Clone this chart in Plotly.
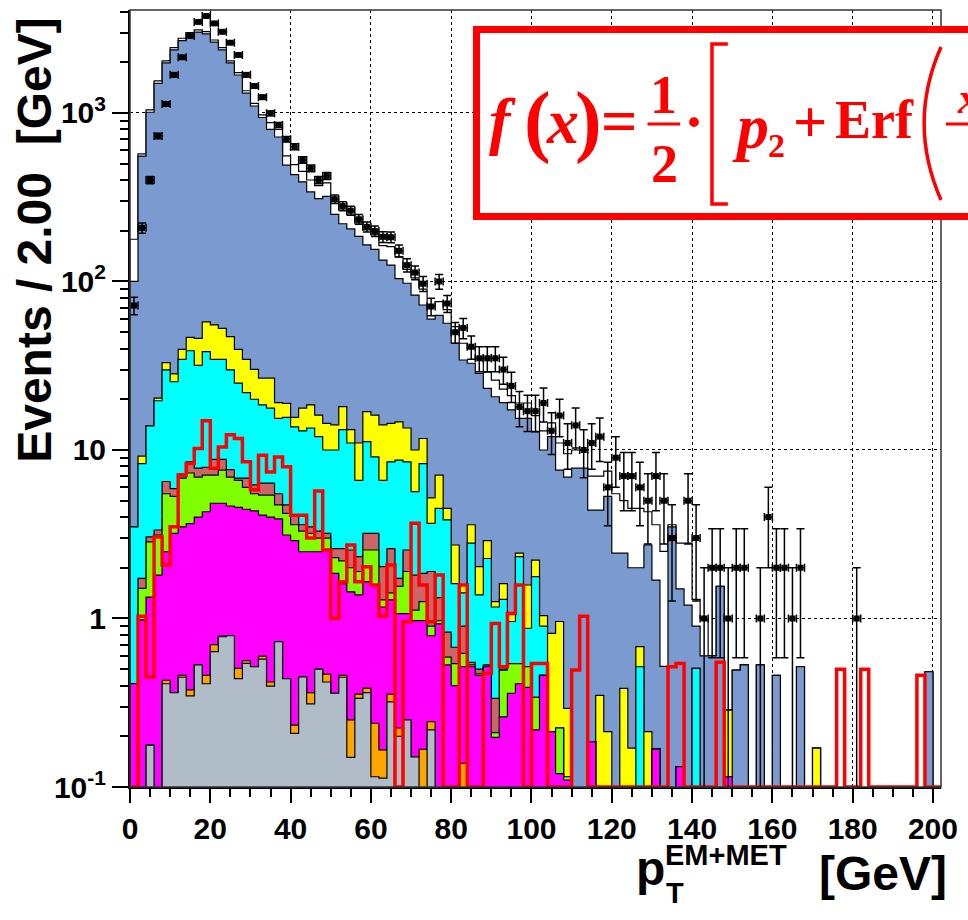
import numpy as np
import plotly.graph_objects as go

# ---------------------------------------------------------------- binning
BIN_W = 2.0
N_BINS = 100
X_MAX = 202.0
edges = np.arange(N_BINS + 1) * BIN_W
centers = edges[:-1] + BIN_W / 2

# ---------------------------------------------------------------- data (events per bin)
data_counts = [
    72, 208, 400, 731, 1130, 1683, 2140, 2865, 3470, 3760,
    3400, 3030, 2610, 2210, 1683, 1445, 1240, 995, 849, 698,
    631, 526, 469, 400, 423, 308, 280, 263, 234, 211,
    199, 184, 183, 152, 125, 113, 97, 71, 100, 74,
    50, 53, 41, 35, 35, 35, 30, 24, 18, 17,
    17, 19, 13, 16, 11, 14, 10, 11, 12, 6,
    9, 7, 7, 6, 5, 7, 5, 3, 0, 5,
    3, 1, 2, 2, 1, 2, 2, 0, 1, 4,
    2, 2, 1, 2, 0, 0, 0, 0, 0, 0,
    1, 0, 0, 0, 0, 0, 0, 0, 0, 0,
]

# ---------------------------------------------------------------- stacked backgrounds
# cumulative height of the stack after adding each process (bottom -> top)
gray_top = [
    0, 0, 0.177, 0, 0.41, 0.363, 0.448, 0.347, 0.53, 0.41,
    0.636, 0.78, 0.79, 0.44, 0.542, 0.517, 0.574, 0.397, 0.728, 0.44,
    0.208, 0.45, 0.311, 0.5, 0.42, 0.36, 0.448, 0.15, 0.336, 0.363,
    0.115, 0.113, 0.32, 0.2, 0.25, 0.151, 0, 0.218, 0, 0,
] + [0] * 60
orange_top = [
    0, 0, 0.177, 0, 0.43, 0.363, 0.46, 0.377, 0.53, 0.46,
    0.70, 0.787, 0.79, 0.506, 0.562, 0.517, 0.598, 0.42, 0.728, 0.44,
    0.233, 0.45, 0.363, 0.5, 0.468, 0.36, 0.46, 0.25, 0.356, 0.386,
    0.239, 0.166, 0.356, 0.224, 0.25, 0.151, 0.167, 0.244, 0, 0,
    0, 0.138,
] + [0] * 58
magenta_top = [
    0.41, 0.98, 1.34, 1.81, 2.49, 3.2, 3.5, 3.66, 4.0, 4.3,
    4.83, 4.83, 4.65, 4.57, 4.45, 4.35, 4.11, 4.0, 3.9, 3.13,
    2.9, 2.49, 2.49, 2.49, 2.55, 1.85, 1.61, 1.44, 1.38, 1.65,
    1.58, 1.17, 1.29, 1.07, 1.07, 0.97, 0.97, 0.79, 0.93, 0.53,
    0.40, 0.517, 0.517, 0.46, 0.517, 0.197, 0.261, 0.36, 0.41, 0.39,
    0.218, 0.46, 0.213, 0.12, 0.11, 0, 0, 0.186, 0, 0,
    0, 0, 0, 0, 0, 0.168, 0, 0, 0.132, 0,
    0, 0, 0, 0, 0.115, 0, 0, 0, 0, 0,
] + [0] * 20
green_top = [
    0.41, 1.51, 2.85, 3.13, 5.5, 5.3, 6.8, 7.3, 6.9, 7.1,
    7.1, 7.6, 6.9, 6.6, 6.0, 5.5, 5.4, 5.4, 4.72, 4.2,
    3.6, 3.3, 3.2, 3.0, 3.0, 2.3, 2.2, 2.0, 1.9, 2.55,
    2.55, 1.29, 1.42, 1.55, 1.9, 1.12, 1.26, 0.9, 0.97, 0.59,
    0.54, 0.62, 0.53, 0.47, 0.52, 0.21, 0.494, 0.54, 0.54, 0.517,
    0.34, 0.46, 0.213, 0.224, 0.115, 0, 0, 0.186, 0, 0,
    0, 0, 0, 0, 0, 0.168, 0, 0, 0.132, 0,
    0, 0, 0, 0, 0.115, 0, 0, 0, 0, 0,
] + [0] * 20
brown_top = [
    0.41, 1.73, 3.05, 3.35, 6.5, 5.9, 7.2, 8.5, 7.8, 7.9,
    8.8, 8.8, 7.65, 6.8, 6.8, 6.2, 6.35, 6.35, 5.5, 4.72,
    4.06, 3.6, 3.5, 3.3, 3.2, 2.6, 2.6, 2.55, 2.33, 3.2,
    3.2, 2.03, 2.6, 1.73, 2.55, 1.81, 1.85, 1.9, 1.33, 0.83,
    0.675, 0.9, 0.55, 0.5, 0.53, 0.336, 0.5, 0.54, 0.54, 0.517,
    0.34, 0.46, 0.213, 0.224, 0.115, 0, 0, 0.186, 0, 0,
    0, 0, 0, 0, 0, 0.168, 0, 0, 0.132, 0,
    0, 0, 0, 0, 0.115, 0, 0, 0, 0, 0,
] + [0] * 20
cyan_top = [
    3.5, 8.3, 13.9, 19.6, 29.9, 25.4, 34.5, 38.8, 31.8, 38.3,
    34.5, 34.5, 29.9, 24.9, 21.9, 20.0, 18.5, 17.7, 15.4, 15.6,
    13.7, 13.0, 13.5, 12.0, 10.0, 10.0, 13.2, 11.0, 6.6, 11.2,
    9.1, 6.6, 8.5, 8.7, 8.5, 5.66, 8.3, 3.67, 4.5, 3.85,
    1.61, 1.42, 2.8, 1.38, 2.27, 1.17, 1.3, 0.96, 2.33, 0.875,
    1.77, 0.9, 0.213, 0.224, 0.115, 0, 0, 0.186, 0, 0,
    0, 0, 0, 0.517, 0, 0.168, 0, 0, 0.132, 0,
    0.506, 0, 0, 0, 0.115, 0, 0, 0, 0, 0,
] + [0] * 20
yellow_top = [
    3.5, 9.2, 13.9, 20.3, 33.0, 28.3, 39.5, 46.6, 45.9, 57.6,
    55.2, 52.7, 47.0, 39.5, 34.5, 30.1, 26.7, 26.7, 19.1, 18.9,
    15.6, 17.7, 18.5, 16.1, 14.4, 14.1, 18.1, 13.2, 11.0, 16.9,
    16.1, 14.1, 14.4, 14.7, 13.5, 10.0, 11.7, 5.2, 7.1, 4.5,
    2.73, 1.58, 3.6, 2.03, 2.9, 1.26, 1.61, 1.07, 2.44, 1.58,
    2.22, 1.04, 0.817, 0.96, 0.293, 0, 0, 0.186, 0.35, 0.213,
    0, 0.385, 0.17, 0.68, 0.213, 0.168, 0, 0, 0.132, 0,
    0.506, 0, 0, 0, 0.286, 0, 0, 0, 0, 0,
    0, 0, 0, 0, 0, 0.17, 0, 0, 0, 0,
] + [0] * 10
blue_top = [
    100, 555, 1010, 1500, 1980, 2370, 2690, 2910, 3020, 2950,
    2630, 2370, 1980, 1680, 1310, 1100, 940, 800, 720, 490,
    430, 390, 340, 310, 320, 250, 220, 205, 185, 165,
    155, 134, 125, 104, 97.6, 83, 72.5, 59.7, 63, 56.5,
    43, 34.2, 32.7, 28.5, 23.2, 20.7, 19.1, 17.3, 15.4, 15.4,
    12.8, 10.0, 12.0, 7.6, 6.9, 7.8, 7.8, 4.4, 4.4, 5.3,
    2.44, 2.44, 2.0, 2.0, 2.73, 1.69, 0.52, 3.5, 1.5, 1.2,
    0.9, 0.6, 0.6, 1.55, 0.286, 0.494, 0.53, 0, 0.53, 0,
    0.46, 0, 0, 0.517, 0, 0.17, 0, 0, 0, 0,
    0, 0, 0, 0, 0, 0, 0, 0, 0, 0.483,
]
white_top = [
    178, 571, 1042, 1549, 2040, 2440, 2775, 3000, 3110, 3040,
    2710, 2440, 2040, 1734, 1355, 1140, 973, 877, 800, 556,
    494, 450, 400, 370, 385, 298, 265, 248, 223, 202,
    189, 163, 161, 140, 118, 105, 90, 71, 76, 68,
    54, 43, 40, 35, 29, 26, 23, 21, 19, 19,
    16, 13, 14.5, 11, 9.5, 10, 10, 7, 7, 7.5,
    5.5, 5, 4.5, 4.5, 4.3, 3.6, 2.5, 3.6, 2.8, 2.8,
    1.3, 1.0, 0.6, 1.55, 0.286, 0.494, 0.53, 0, 0.53, 0,
    0.46, 0, 0, 0.517, 0, 0.17, 0, 0, 0, 0,
    0, 0, 0, 0, 0, 0, 0, 0, 0, 0.483,
]

# ---------------------------------------------------------------- signal (outline only)
signal = [
    0, 1.03, 0.45, 3.05, 2.08, 3.5, 7.1, 8.3, 10.2, 14.9,
    7.8, 10.4, 12.3, 11.7, 8.5, 5.8, 9.3, 7.4, 9.1, 7.95,
    4.1, 4.1, 3.0, 5.7, 2.55, 1.0, 1.65, 2.73, 1.65, 2.03,
    1.58, 1.03, 2.08, 0, 0.957, 3.67, 1.58, 0.957, 1.81, 0,
    0, 1.58, 0, 0, 0.473, 0.935, 0.517, 1.07, 1.58, 0,
    0.54, 0.54, 0, 0, 0, 0.494, 1.03, 0, 0, 0,
    0, 0, 0, 0, 0, 0, 0, 0.517, 0.54, 0,
    0, 0, 0, 0.55, 0, 0, 0, 0, 0, 0,
    0, 0, 0, 0, 0, 0, 0, 0, 0.5, 0,
    0, 0.5, 0, 0, 0, 0, 0, 0, 0.46, 0,
]

stack_layers = [  # drawn back to front (tallest first)
    (white_top, "#ffffff"),
    (blue_top, "#7b9bd0"),
    (yellow_top, "#ffff00"),
    (cyan_top, "#00ffff"),
    (brown_top, "#cc6666"),
    (green_top, "#80ff00"),
    (magenta_top, "#ff00ff"),
    (orange_top, "#ffa500"),
    (gray_top, "#b0bcc7"),
]

Y_MIN, Y_MAX = 0.1, 10 ** 3.611
FLOOR = 1e-3


def step_outline(values, empty):
    xs, ys = [0.0], [empty]
    for i, v in enumerate(values):
        h = v if v > 0 else empty
        xs += [edges[i], edges[i + 1]]
        ys += [h, h]
    xs += [edges[-1], X_MAX]
    ys += [empty, empty]
    return xs, ys


fig = go.Figure()

for values, colour in stack_layers:
    xs, ys = step_outline(values, FLOOR)
    fig.add_trace(go.Scatter(
        x=xs + [0.0], y=ys + [FLOOR], mode="lines", fill="toself",
        fillcolor=colour, line=dict(color="black", width=1.2),
        hoverinfo="skip", showlegend=False,
    ))

sx, sy = step_outline(signal, Y_MIN)
fig.add_trace(go.Scatter(
    x=sx, y=sy, mode="lines", line=dict(color="#ff0000", width=3.5),
    hoverinfo="skip", showlegend=False,
))

counts = np.array(data_counts, dtype=float)
has = counts > 0
err = np.sqrt(counts[has])
fig.add_trace(go.Scatter(
    x=centers[has], y=counts[has], mode="markers",
    marker=dict(symbol="square", size=6, color="black"),
    error_y=dict(type="data", array=err, arrayminus=err, color="black",
                 thickness=1.5, width=4),
    error_x=dict(type="constant", value=BIN_W / 2, color="black",
                 thickness=1.5, width=4),
    hoverinfo="skip", showlegend=False,
))

# ---------------------------------------------------------------- axes
x_minor = [v for v in range(5, 201, 5) if v % 20]
y_minor = [m * 10.0 ** e for e in range(-1, 4) for m in range(2, 10)
           if m * 10.0 ** e < Y_MAX]
axis_font = dict(family="Liberation Sans, Arial, sans-serif", size=30,
                 color="black", weight="bold")

fig.update_xaxes(
    range=[0, X_MAX], tickmode="array", tickvals=list(range(0, 201, 20)),
    ticks="outside", ticklen=14, tickwidth=1.5, tickcolor="black",
    showline=True, linecolor="black", linewidth=2,
    showgrid=True, gridcolor="black", griddash="dot", gridwidth=1,
    zeroline=False, tickfont=axis_font,
    minor=dict(tickvals=x_minor, ticks="outside", ticklen=8, tickwidth=1.5,
               tickcolor="black", showgrid=False),
)
fig.update_yaxes(
    type="log", range=[np.log10(Y_MIN), np.log10(Y_MAX)],
    tickmode="array", tickvals=[0.1, 1, 10, 100, 1000],
    ticktext=["10<sup>-1</sup>", "1", "10", "10<sup>2</sup>", "10<sup>3</sup>"],
    ticks="outside", ticklen=16, tickwidth=1.5, tickcolor="black",
    showline=True, linecolor="black", linewidth=2,
    showgrid=True, gridcolor="black", griddash="dot", gridwidth=1,
    zeroline=False, tickfont=axis_font,
    minor=dict(tickvals=y_minor, ticks="outside", ticklen=8, tickwidth=1.5,
               tickcolor="black", showgrid=False),
)

# ---------------------------------------------------------------- frame geometry (px)
L, R, T, B = 130, 948, 10, 787
W, H = 968, 920


def px(xp):
    return (xp - L) / (R - L)


def py(yp):
    return (B - yp) / (B - T)


sans = "Liberation Sans, Arial, sans-serif"
serif = "Liberation Serif, Times New Roman, serif"
annotations = [
    dict(text="Events / 2.00\u00a0\u00a0[GeV]", x=px(33), y=py(240), textangle=-90,
         font=dict(family=sans, size=48, color="black", weight="bold")),
    dict(text="p", x=px(655), y=py(868),
         font=dict(family=sans, size=48, color="black", weight="bold")),
    dict(text="EM+MET", x=px(668), y=py(855), xanchor="left",
         font=dict(family=sans, size=29, color="black", weight="bold")),
    dict(text="T", x=px(669), y=py(893), xanchor="left",
         font=dict(family=sans, size=29, color="black", weight="bold")),
    dict(text="[GeV]", x=px(956), y=py(873), xanchor="right",
         font=dict(family=sans, size=48, color="black", weight="bold")),
]

# formula pave
red = "#ff0000"
formula = [
    ("<i>f</i>", 506, 120, 64),
    ("(", 541, 120, 80),
    ("<i>x</i>", 566, 122, 64),
    (")", 592, 120, 80),
    ("=", 623, 122, 64),
    ("1", 668, 95, 54),
    ("2", 669, 164, 54),
    ("\u00b7", 699, 122, 60),
    ("<i>p</i>", 756, 126, 64),
    ("2", 782, 145, 34),
    ("+", 816, 122, 60),
    ("Erf", 881, 120, 54),
    ("<i>x</i>", 976, 98, 44),
]
for text, xp, yp, size in formula:
    annotations.append(dict(
        text=text, x=px(xp), y=py(yp),
        font=dict(family=serif, size=size, color=red, weight="bold")))

for a in annotations:
    a.setdefault("xanchor", "center")
    a.setdefault("yanchor", "middle")
    a.update(xref="paper", yref="paper", showarrow=False)

shapes = [
    # thin frame on top and right, under the formula pave
    dict(type="rect", xref="paper", yref="paper", x0=0, x1=1, y0=0, y1=1,
         line=dict(color="#333333", width=1.5), layer="above"),
    dict(type="rect", xref="paper", yref="paper", x0=px(479.5), x1=px(1000),
         y0=py(216.5), y1=py(29.5), line=dict(color=red, width=7),
         fillcolor="white", layer="above"),
    # fraction bars
    dict(type="line", xref="paper", yref="paper", x0=px(652), x1=px(685),
         y0=py(124), y1=py(124), line=dict(color=red, width=3), layer="above"),
    dict(type="line", xref="paper", yref="paper", x0=px(953), x1=px(990),
         y0=py(124), y1=py(124), line=dict(color=red, width=3), layer="above"),
    # square bracket
    dict(type="path", xref="paper", yref="paper",
         path=(f"M {px(733)},{py(44)} L {px(717)},{py(44)} "
               f"L {px(717)},{py(204)} L {px(733)},{py(204)}"),
         line=dict(color=red, width=3.5), layer="above"),
    # large parenthesis
    dict(type="path", xref="paper", yref="paper",
         path=(f"M {px(948)},{py(47)} Q {px(914)},{py(123)} {px(948)},{py(200)}"),
         line=dict(color=red, width=3.5), layer="above"),
]

fig.update_layout(
    width=W, height=H,
    margin=dict(l=L, r=W - R, t=T, b=H - B),
    paper_bgcolor="white", plot_bgcolor="white",
    annotations=annotations, shapes=shapes,
    showlegend=False,
)

fig.write_html("out.html")
